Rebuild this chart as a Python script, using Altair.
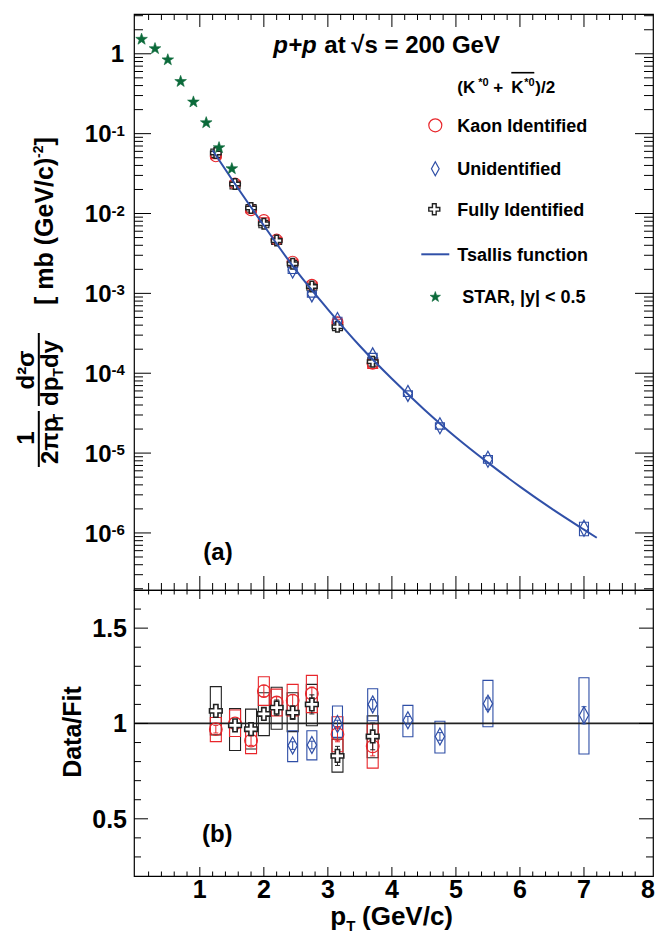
import altair as alt
import pandas as pd

FONT = "Liberation Sans"
RED = "#e8262b"
BLUE = "#2e4ea6"
BLACK = "#222222"
GREEN = "#0b6a3a"
LINE = "#3050a8"

# ---------------- data ----------------
star_pt = [0.09, 0.3, 0.5, 0.7, 0.9, 1.1, 1.3, 1.5]
star_val = [1.52, 1.16, 0.84, 0.45, 0.249, 0.137, 0.0667, 0.0364]

fit_pt = [1.2, 1.5, 2.0, 2.5, 3.0, 3.5, 4.0, 4.5, 5.0, 5.5, 6.0, 6.5, 7.0, 7.2]
fit_val = [0.0617, 0.0269, 0.00708, 0.00195, 6.31e-4, 2.19e-4, 8.51e-5,
           3.55e-5, 1.58e-5, 7.59e-6, 3.80e-6, 2.0e-6, 1.10e-6, 8.7e-7]

kaon_pt = [1.25, 1.55, 1.8, 2.0, 2.2, 2.45, 2.75, 3.15, 3.7]
kaon_val = [0.0521, 0.0237, 0.0110, 0.00828, 0.00470, 0.00249, 0.00128, 4.33e-4, 1.32e-4]
kaon_ratio = [0.97, 1.00, 0.91, 1.17, 1.11, 1.12, 1.156, 0.944, 0.88]
kaon_sys_lo = [0.905, 0.932, 0.842, 1.095, 1.04, 1.04, 1.057, 0.852, 0.766]
kaon_sys_hi = [1.031, 1.071, 0.979, 1.245, 1.18, 1.205, 1.252, 1.035, 0.997]
kaon_stat = [0.02, 0.02, 0.025, 0.03, 0.03, 0.03, 0.035, 0.04, 0.05]

full_pt = [1.25, 1.55, 1.8, 2.0, 2.2, 2.45, 2.75, 3.15, 3.7]
full_val = [0.0572, 0.0234, 0.0117, 0.00743, 0.00458, 0.00235, 0.00122, 3.81e-4, 1.395e-4]
full_ratio = [1.066, 0.99, 0.97, 1.05, 1.083, 1.057, 1.10, 0.83, 0.932]
full_sys_lo = [0.94, 0.858, 0.866, 0.936, 0.97, 0.957, 0.988, 0.745, 0.82]
full_sys_hi = [1.193, 1.078, 1.075, 1.161, 1.19, 1.161, 1.205, 0.918, 1.04]
full_stat = [0.02, 0.02, 0.02, 0.03, 0.04, 0.035, 0.05, 0.05, 0.07]

unid_pt = [2.45, 2.75, 3.15, 3.7, 4.25, 4.75, 5.5, 7.0]
unid_val = [0.00196, 9.85e-4, 4.58e-4, 1.65e-4, 5.59e-5, 2.20e-5, 8.38e-6, 1.147e-6]
unid_ratio = [0.884, 0.887, 0.997, 1.10, 1.017, 0.932, 1.104, 1.043]
unid_sys_lo = [0.80, 0.809, 0.927, 1.014, 0.93, 0.845, 0.983, 0.84]
unid_sys_hi = [0.962, 0.962, 1.092, 1.182, 1.095, 1.012, 1.226, 1.24]
unid_stat = [0.02, 0.02, 0.02, 0.025, 0.02, 0.02, 0.03, 0.045]

x_major = [1, 2, 3, 4, 5, 6, 7]
x_minor = [round(0.2 * i, 1) for i in range(1, 40) if i % 5 != 0]
x_labels = [1, 2, 3, 4, 5, 6, 7, 8]
ylog_major = [1e-6, 1e-5, 1e-4, 1e-3, 1e-2, 1e-1, 1.0]
ylog_minor = [m * 10.0 ** k for k in range(-7, 1) for m in range(2, 10)
              if 1.93e-7 <= m * 10.0 ** k <= 3.15]
ylog_exp = ["-6", "-5", "-4", "-3", "-2", "-1"]
ylin_major = [0.5, 1.0, 1.5]
ylin_minor = [0.3, 0.4, 0.6, 0.7, 0.8, 0.9, 1.1, 1.2, 1.3, 1.4, 1.6]
ylin_labels = ["0.5", "1", "1.5"]


def species(pt, val, ratio, lo, hi, stat):
    df = pd.DataFrame({"pt": pt, "val": val, "ratio": ratio,
                       "slo": lo, "shi": hi, "stat": stat})
    df["vlo"] = df["val"] * df["slo"] / df["ratio"]
    df["vhi"] = df["val"] * df["shi"] / df["ratio"]
    df["elo"] = df["ratio"] - df["stat"]
    df["ehi"] = df["ratio"] + df["stat"]
    return df


kaon = species(kaon_pt, kaon_val, kaon_ratio, kaon_sys_lo, kaon_sys_hi, kaon_stat)
full = species(full_pt, full_val, full_ratio, full_sys_lo, full_sys_hi, full_stat)
unid = species(unid_pt, unid_val, unid_ratio, unid_sys_lo, unid_sys_hi, unid_stat)
stars = pd.DataFrame({"pt": star_pt, "val": star_val})
fit = pd.DataFrame({"pt": fit_pt, "val": fit_val})

# ---------------- geometry / styles ----------------
W, HT, HB = 519, 576, 286
xs = alt.Scale(domain=[0.05, 8.0], nice=False, zero=False)
yt = alt.Scale(type="log", domain=[1.93e-7, 3.15], nice=False)
yb = alt.Scale(domain=[0.2, 1.7], nice=False, zero=False)
one = pd.DataFrame({"a": [0]})

DIAMOND = "M0,-1L0.55,0L0,1L-0.55,0Z"
CROSS = ("M-0.34,-1L0.34,-1L0.34,-0.34L1,-0.34L1,0.34L0.34,0.34L0.34,1L-0.34,1"
         "L-0.34,0.34L-1,0.34L-1,-0.34L-0.34,-0.34Z")
STAR = ("M0,-1L0.235,-0.324L0.951,-0.309L0.38,0.124L0.588,0.809L0,0.4"
        "L-0.588,0.809L-0.38,0.124L-0.951,-0.309L-0.235,-0.324Z")


def txt(s, x, y, size, angle=0, align="left", style=None, color="black"):
    kw = dict(text=s, font=FONT, fontSize=size, fontWeight="bold", align=align,
              baseline="alphabetic", color=color)
    if angle:
        kw["angle"] = angle
    if style:
        kw["fontStyle"] = style
    return alt.Chart(one).mark_text(**kw).encode(x=alt.value(x), y=alt.value(y))


def seg(x1, y1, x2, y2, color="black", w=1.0, op=1.0):
    return alt.Chart(one).mark_rule(color=color, strokeWidth=w, opacity=op).encode(
        x=alt.value(x1), y=alt.value(y1), x2=alt.value(x2), y2=alt.value(y2))


def xticks(vals, y0, y1):
    return alt.Chart(pd.DataFrame({"v": vals})).mark_rule(color="black", strokeWidth=1).encode(
        x=alt.X("v:Q", scale=xs, axis=None), y=alt.value(y0), y2=alt.value(y1))


def yticks(vals, ys, x0, x1):
    return alt.Chart(pd.DataFrame({"v": vals})).mark_rule(color="black", strokeWidth=1).encode(
        y=alt.Y("v:Q", scale=ys, axis=None), x=alt.value(x0), x2=alt.value(x1))


def boxes(df, lo, hi, ys, color, size=11):
    return alt.Chart(df).mark_bar(size=size, fillOpacity=0, stroke=color, strokeWidth=1.1).encode(
        x=alt.X("pt:Q", scale=xs, axis=None),
        y=alt.Y(f"{lo}:Q", scale=ys, axis=None), y2=alt.Y2(f"{hi}:Q"))


def pts(df, ycol, ys, shape, size, stroke, fill=None, sw=1.2):
    kw = dict(shape=shape, size=size, stroke=stroke, strokeWidth=sw, opacity=1)
    if fill:
        kw.update(filled=True, fill=fill)
    else:
        kw.update(filled=False)
    return alt.Chart(df).mark_point(**kw).encode(
        x=alt.X("pt:Q", scale=xs, axis=None), y=alt.Y(f"{ycol}:Q", scale=ys, axis=None))


def legpt(shape, size, stroke, x, y, fill=None, sw=1.2):
    kw = dict(shape=shape, size=size, stroke=stroke, strokeWidth=sw, opacity=1)
    if fill:
        kw.update(filled=True, fill=fill)
    else:
        kw.update(filled=False)
    return alt.Chart(one).mark_point(**kw).encode(x=alt.value(x), y=alt.value(y))


# ---------------- top panel ----------------
ylab_df = pd.DataFrame({"v": ylog_major[:-1], "e": ylog_exp})
top_layers = [
    seg(-124.7, 300, -124.7, 300, op=0),
    boxes(full, "vlo", "vhi", yt, BLACK, 10),
    boxes(kaon, "vlo", "vhi", yt, RED, 10),
    boxes(unid, "vlo", "vhi", yt, BLUE, 9),
    pts(kaon, "val", yt, "circle", 121, RED),
    pts(unid, "val", yt, DIAMOND, 256, BLUE),
    pts(full, "val", yt, CROSS, 110, BLACK, fill="white", sw=1.5),
    alt.Chart(fit).mark_line(color=LINE, strokeWidth=2, interpolate="monotone").encode(
        x=alt.X("pt:Q", scale=xs, axis=None), y=alt.Y("val:Q", scale=yt, axis=None)),
    pts(stars, "val", yt, STAR, 150, GREEN, fill=GREEN, sw=0.6),
    # ticks
    xticks(x_major, HT, HT - 14), xticks(x_minor, HT, HT - 7),
    xticks(x_major, 0, 13), xticks(x_minor, 0, 6),
    yticks(ylog_major, yt, 0, 17), yticks(ylog_minor, yt, 0, 9),
    yticks(ylog_major, yt, W - 18, W), yticks(ylog_minor, yt, W - 9, W),
    # y tick labels
    alt.Chart(ylab_df).mark_text(text="10", font=FONT, fontSize=24, fontWeight="bold",
                                 align="right", baseline="alphabetic", dy=8.6).encode(
        y=alt.Y("v:Q", scale=yt, axis=None), x=alt.value(-22.5)),
    alt.Chart(ylab_df).mark_text(font=FONT, fontSize=15, fontWeight="bold",
                                 align="left", baseline="alphabetic", dy=2.1).encode(
        y=alt.Y("v:Q", scale=yt, axis=None), x=alt.value(-22.5), text="e:N"),
    alt.Chart(pd.DataFrame({"v": [1.0]})).mark_text(text="1", font=FONT, fontSize=24,
                                                    fontWeight="bold", align="right",
                                                    baseline="alphabetic", dy=8.6).encode(
        y=alt.Y("v:Q", scale=yt, axis=None), x=alt.value(-10)),
    # y-axis title (rotated pieces)
    txt("[ mb (GeV/c)", -80.7, 291, 25, angle=270),
    txt("-2", -91.5, 144, 14, angle=270),
    txt(" ]", -80.7, 131.5, 25, angle=270),
    txt("d\u00b2\u03c3", -99.7, 356, 24, angle=270, align="center"),
    seg(-95.2, 319, -95.2, 392, w=2),
    txt("dp", -75.7, 392, 24, angle=270),
    txt("T", -70.7, 362.7, 14, angle=270),
    txt(" dy", -75.7, 354.1, 24, angle=270),
    txt("1", -99.7, 424, 24, angle=270, align="center"),
    seg(-95.2, 397, -95.2, 453, w=2),
    txt("2\u03c0p", -75.7, 450, 24, angle=270),
    txt("T", -70.7, 408.6, 14, angle=270),
    # header
    txt("p+p", 139.3, 39, 24, style="italic"),
    txt("at", 190.3, 39, 24),
    txt("\u221as = 200 GeV", 217.3, 39, 24),
    # (K*0 + K*0bar)/2
    txt("(K", 323.3, 79, 17),
    txt("*0", 344.3, 72, 11),
    txt("+", 359.3, 79, 17),
    txt("K", 377.3, 79, 17),
    txt("*0", 390.3, 72, 11),
    txt(")/2", 401.3, 79, 17),
    seg(377.3, 58.7, 400.3, 58.7, w=1.6),
    # legend
    legpt("circle", 169, RED, 301.3, 111.3),
    txt("Kaon Identified", 323.3, 117.7, 18),
    legpt(DIAMOND, 196, BLUE, 301.3, 154.7),
    txt("Unidentified", 323.3, 161.1, 18),
    legpt(CROSS, 121, BLACK, 300.3, 195.3, fill="white", sw=1.4),
    txt("Fully Identified", 323.3, 201.7, 18),
    seg(287.3, 240.3, 315.3, 240.3, color=LINE, w=2),
    txt("Tsallis function", 323.3, 246.7, 18),
    legpt(STAR, 121, GREEN, 301.3, 283, fill=GREEN, sw=0.6),
    txt("STAR, |y| < 0.5", 328.3, 289.4, 18),
    txt("(a)", 84, 545.6, 24, align="center"),
]
top = alt.layer(*top_layers).properties(width=W, height=HT)

# ---------------- bottom panel ----------------
bot_layers = [
    seg(-124.7, 100, -124.7, 100, op=0),
    boxes(full, "slo", "shi", yb, BLACK),
    boxes(kaon, "slo", "shi", yb, RED),
    boxes(unid, "slo", "shi", yb, BLUE, 10),
    alt.Chart(pd.DataFrame({"v": [1.0]})).mark_rule(color=BLACK, strokeWidth=1.8).encode(
        y=alt.Y("v:Q", scale=yb, axis=None)),
]
for df, c in ((kaon, RED), (full, BLACK), (unid, BLUE)):
    bot_layers.append(alt.Chart(df).mark_rule(color=c, strokeWidth=1).encode(
        x=alt.X("pt:Q", scale=xs, axis=None),
        y=alt.Y("elo:Q", scale=yb, axis=None), y2=alt.Y2("ehi:Q")))
    for col in ("elo", "ehi"):
        bot_layers.append(alt.Chart(df).mark_tick(orient="horizontal", size=5, thickness=1,
                                                  color=c, opacity=1).encode(
            x=alt.X("pt:Q", scale=xs, axis=None), y=alt.Y(f"{col}:Q", scale=yb, axis=None)))
bot_layers += [
    pts(kaon, "ratio", yb, "circle", 160, RED),
    pts(unid, "ratio", yb, DIAMOND, 289, BLUE),
    pts(full, "ratio", yb, CROSS, 160, BLACK, fill="white", sw=1.6),
    # ticks
    xticks(x_major, HB, HB - 9), xticks(x_minor, HB, HB - 4.5),
    xticks(x_major, 0, 9), xticks(x_minor, 0, 4.5),
    yticks(ylin_major, yb, 0, 14), yticks(ylin_minor, yb, 0, 7),
    yticks(ylin_major, yb, W - 14, W), yticks(ylin_minor, yb, W - 7, W),
    # labels
    alt.Chart(pd.DataFrame({"v": ylin_major, "t": ylin_labels})).mark_text(
        font=FONT, fontSize=25, fontWeight="bold", align="right", baseline="alphabetic",
        dy=9).encode(y=alt.Y("v:Q", scale=yb, axis=None), x=alt.value(-7), text="t:N"),
    alt.Chart(pd.DataFrame({"v": x_labels})).mark_text(
        font=FONT, fontSize=25, fontWeight="bold", align="center", baseline="alphabetic").encode(
        x=alt.X("v:Q", scale=xs, axis=None), y=alt.value(307.5), text="v:N"),
    txt("Data/Fit", -52.7, 142, 25, angle=270, align="center"),
    txt("p", 196.3, 335, 26),
    txt("T", 212.2, 341, 15),
    txt("(GeV/c)", 228, 335, 26),
    txt("(b)", 83.3, 251.6, 24, align="center"),
]
bottom = alt.layer(*bot_layers).properties(width=W, height=HB)

chart = alt.vconcat(top, bottom, spacing=0, bounds="flush",
                    padding={"left": 0, "top": 4, "right": 2, "bottom": 2}).configure_view(
    stroke="black", strokeWidth=1.2)

chart.save("out.html", embed_options={"renderer": "svg", "actions": False})
